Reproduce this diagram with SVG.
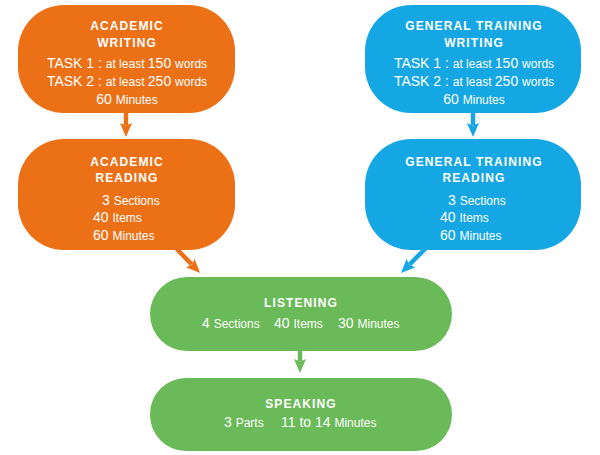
<svg xmlns="http://www.w3.org/2000/svg" width="600" height="455" viewBox="0 0 600 455">
<style>
text{font-family:"Liberation Sans",Arial,sans-serif;fill:#fff;}
.h{font-weight:bold;font-size:12px;letter-spacing:1.1px;text-anchor:middle;}
.b{font-size:14px;}
.s{font-size:12px;}
.m{text-anchor:middle;}
.or{fill:#EC7116;}
.bl{fill:#14A7E4;}
.gr{fill:#6BBA59;}
</style>
<defs>
<marker id="ao" viewBox="0 0 14 12" refX="2" refY="6" markerWidth="14" markerHeight="12" markerUnits="userSpaceOnUse" orient="auto"><path d="M0,0 L14,6 L0,12 L2.5,6 z" fill="#EC7116"/></marker>
<marker id="ab" viewBox="0 0 14 12" refX="2" refY="6" markerWidth="14" markerHeight="12" markerUnits="userSpaceOnUse" orient="auto"><path d="M0,0 L14,6 L0,12 L2.5,6 z" fill="#14A7E4"/></marker>
<marker id="ag" viewBox="0 0 14 12" refX="2" refY="6" markerWidth="14" markerHeight="12" markerUnits="userSpaceOnUse" orient="auto"><path d="M0,0 L14,6 L0,12 L2.5,6 z" fill="#6BBA59"/></marker>
</defs>
<g id="connectors" stroke-width="4.5" fill="none">
<line x1="126" y1="110" x2="126" y2="125" stroke="#EC7116" marker-end="url(#ao)"/>
<line x1="172" y1="244" x2="191.7" y2="264.4" stroke="#EC7116" marker-end="url(#ao)"/>
<line x1="473" y1="110" x2="473" y2="125" stroke="#14A7E4" marker-end="url(#ab)"/>
<line x1="430" y1="244" x2="409.5" y2="264.5" stroke="#14A7E4" marker-end="url(#ab)"/>
<line x1="300" y1="348" x2="300" y2="361" stroke="#6BBA59" marker-end="url(#ag)"/>
</g>
<g id="academic-writing">
<rect class="or" x="18" y="5" width="217" height="108" rx="46"/>
<text class="h" x="127" y="30">ACADEMIC</text>
<text class="h" x="127" y="47">WRITING</text>
<text class="m" x="127" y="68"><tspan class="b">TASK 1 : </tspan><tspan class="s">at least </tspan><tspan class="b">150 </tspan><tspan class="s">words</tspan></text>
<text class="m" x="127" y="86"><tspan class="b">TASK 2 : </tspan><tspan class="s">at least </tspan><tspan class="b">250 </tspan><tspan class="s">words</tspan></text>
<text class="m" x="127" y="104"><tspan class="b">60 </tspan><tspan class="s">Minutes</tspan></text>
</g>
<g id="academic-reading">
<rect class="or" x="18" y="139" width="217" height="111" rx="46"/>
<text class="h" x="127" y="166">ACADEMIC</text>
<text class="h" x="127" y="182">READING</text>
<text x="102" y="205"><tspan class="b">3 </tspan><tspan class="s">Sections</tspan></text>
<text x="93" y="222"><tspan class="b">40 </tspan><tspan class="s">Items</tspan></text>
<text x="93" y="240"><tspan class="b">60 </tspan><tspan class="s">Minutes</tspan></text>
</g>
<g id="general-writing">
<rect class="bl" x="365" y="5" width="216" height="108" rx="46"/>
<text class="h" x="474" y="30">GENERAL TRAINING</text>
<text class="h" x="474" y="47">WRITING</text>
<text class="m" x="474" y="68"><tspan class="b">TASK 1 : </tspan><tspan class="s">at least </tspan><tspan class="b">150 </tspan><tspan class="s">words</tspan></text>
<text class="m" x="474" y="86"><tspan class="b">TASK 2 : </tspan><tspan class="s">at least </tspan><tspan class="b">250 </tspan><tspan class="s">words</tspan></text>
<text class="m" x="474" y="104"><tspan class="b">60 </tspan><tspan class="s">Minutes</tspan></text>
</g>
<g id="general-reading">
<rect class="bl" x="365" y="139" width="216" height="111" rx="46"/>
<text class="h" x="474" y="166">GENERAL TRAINING</text>
<text class="h" x="474" y="182">READING</text>
<text x="448" y="205"><tspan class="b">3 </tspan><tspan class="s">Sections</tspan></text>
<text x="440" y="222"><tspan class="b">40 </tspan><tspan class="s">Items</tspan></text>
<text x="440" y="240"><tspan class="b">60 </tspan><tspan class="s">Minutes</tspan></text>
</g>
<g id="listening">
<rect class="gr" x="150" y="277" width="302" height="74" rx="37"/>
<text class="h" x="301" y="307">LISTENING</text>
<text x="202" y="328"><tspan class="b">4 </tspan><tspan class="s">Sections</tspan></text>
<text x="274" y="328"><tspan class="b">40 </tspan><tspan class="s">Items</tspan></text>
<text x="338" y="328"><tspan class="b">30 </tspan><tspan class="s">Minutes</tspan></text>
</g>
<g id="speaking">
<rect class="gr" x="150" y="378" width="302" height="73" rx="36"/>
<text class="h" x="301" y="408">SPEAKING</text>
<text x="224" y="427"><tspan class="b">3 </tspan><tspan class="s">Parts</tspan></text>
<text x="281" y="427"><tspan class="b">11 to 14 </tspan><tspan class="s">Minutes</tspan></text>
</g>
</svg>
